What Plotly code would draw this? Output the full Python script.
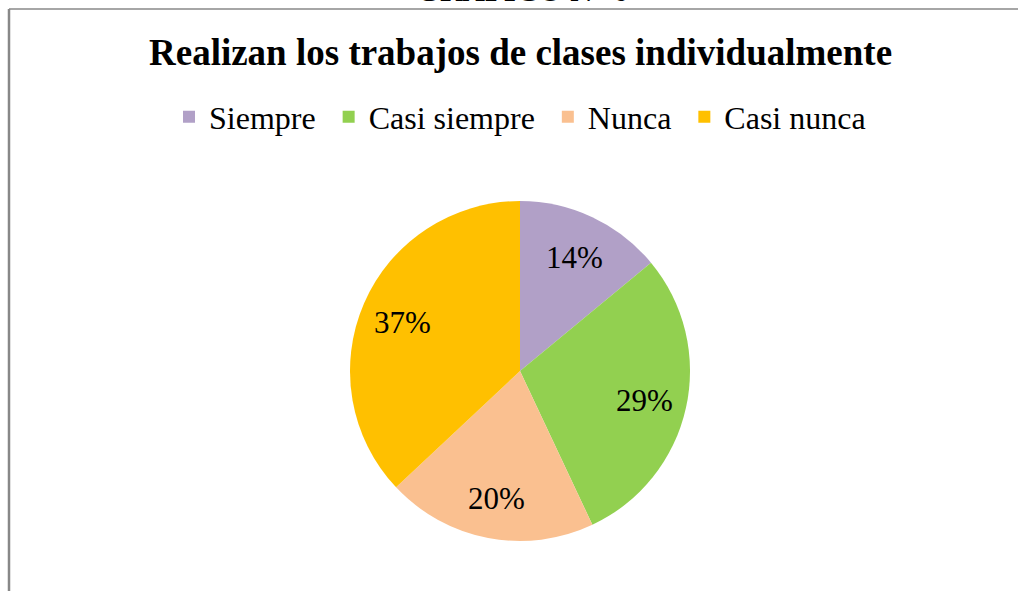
import math
import plotly.graph_objects as go

categories = ["Siempre", "Casi siempre", "Nunca", "Casi nunca"]
values = [14, 29, 20, 37]
colors = ["#B1A0C7", "#92D050", "#FAC090", "#FFC000"]
title_text = "Realizan los trabajos de clases individualmente"
top_text = "GRAFICO N° 6"

W, H = 1018, 591
cx, cy, r = 520, 371, 170
label_frac = 0.75

# a trailing no-break space widens the gap between legend entries like the original
legend_names = [c + "\u00a0" for c in categories]

fig = go.Figure(go.Pie(
    labels=legend_names,
    values=values,
    sort=False,
    direction="clockwise",
    rotation=0,
    marker=dict(colors=colors, line=dict(color="white", width=0)),
    textinfo="none",
    domain=dict(x=[(cx - r) / W, (cx + r) / W], y=[(H - cy - r) / H, (H - cy + r) / H]),
    hoverinfo="label+percent",
))

# percentage labels placed like the original (at ~3/4 of the radius, mid-angle of each slice)
total = sum(values)
annotations = []
cum = 0
for v in values:
    mid = (cum + v / 2) / total * 2 * math.pi
    cum += v
    px = cx + label_frac * r * math.sin(mid)
    py = cy + 2 - label_frac * r * math.cos(mid)
    annotations.append(dict(
        text=f"{round(v / total * 100)}%", x=px / W, y=(H - py) / H,
        xref="paper", yref="paper", xanchor="center", yanchor="middle",
        showarrow=False, font=dict(family="Liberation Serif", size=31, color="black")))

annotations += [
    dict(text="<b>" + title_text + "</b>", x=520 / W, y=(H - 52) / H,
         xref="paper", yref="paper", xanchor="center", yanchor="middle",
         showarrow=False, font=dict(family="Liberation Serif", size=37, color="black")),
    dict(text="<b>" + top_text + "</b>", x=522 / W, y=(H - 10) / H,
         xref="paper", yref="paper", xanchor="center", yanchor="bottom",
         showarrow=False, font=dict(family="Liberation Serif", size=31, color="black")),
]

fig.update_layout(
    width=W, height=H,
    margin=dict(l=0, r=0, t=0, b=0),
    paper_bgcolor="white",
    plot_bgcolor="white",
    font=dict(family="Liberation Serif", color="black"),
    showlegend=True,
    legend=dict(
        orientation="h",
        x=524 / W, xanchor="center",
        y=(H - 117) / H, yanchor="middle",
        font=dict(family="Liberation Serif", size=32, color="black"),
        itemwidth=30,
        tracegroupgap=0,
    ),
    annotations=annotations,
    shapes=[
        dict(type="line", xref="paper", yref="paper", x0=9 / W, x1=1.0, y0=(H - 9) / H, y1=(H - 9) / H,
             line=dict(color="#888888", width=1.5)),
        dict(type="line", xref="paper", yref="paper", x0=9 / W, x1=9 / W, y0=0, y1=(H - 9) / H,
             line=dict(color="#888888", width=2.5)),
    ],
)

fig.write_html("out.html", config={"displayModeBar": False},
               post_script="document.body.style.margin='0';document.body.style.overflow='hidden';")
